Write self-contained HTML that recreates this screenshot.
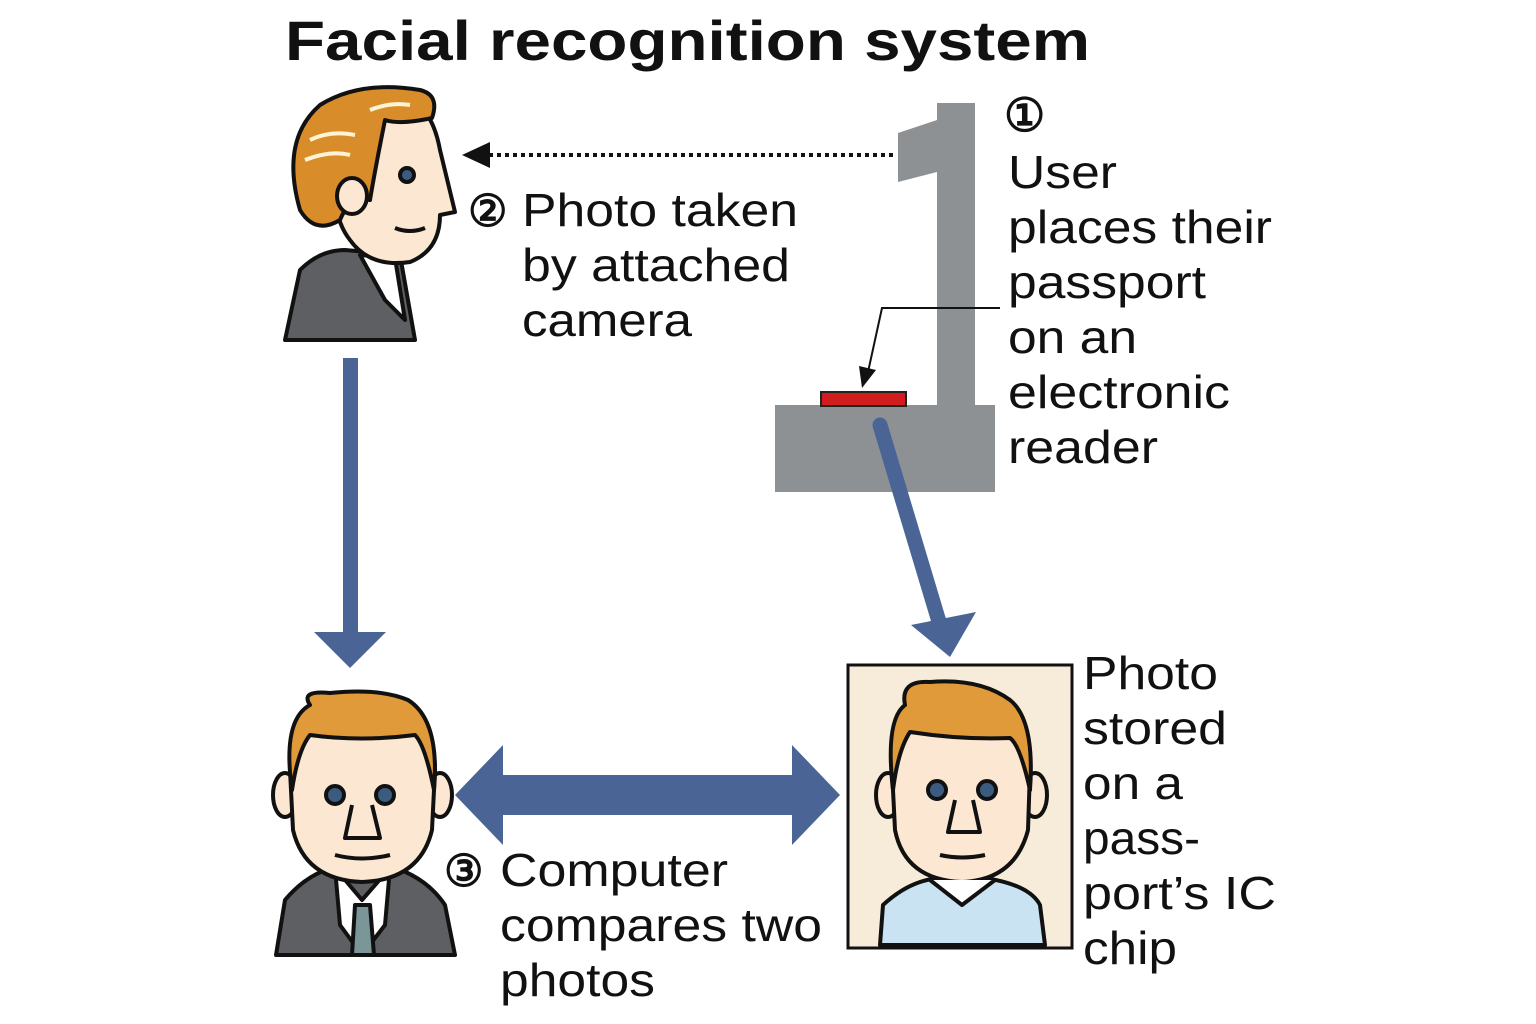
<!DOCTYPE html>
<html><head><meta charset="utf-8"><style>
html,body{margin:0;padding:0;background:#fff}
svg{display:block}
text{font-family:"Liberation Sans",Arial,sans-serif;fill:#111}
</style></head><body>
<svg width="1536" height="1024" viewBox="0 0 1536 1024">
<rect width="1536" height="1024" fill="#fff"/>
<text x="285" y="60" font-size="56" font-weight="bold" textLength="805" lengthAdjust="spacingAndGlyphs">Facial recognition system</text>

<!-- reader -->
<rect x="937" y="103" width="38" height="305" fill="#8d9194"/>
<polygon points="898,133 937,120 937,172 898,182" fill="#8d9194"/>
<rect x="775" y="405" width="220" height="87" fill="#8d9194"/>
<rect x="821" y="392" width="85" height="14" fill="#d21d1d" stroke="#222" stroke-width="2"/>
<!-- dotted arrow -->
<line x1="893" y1="155" x2="488" y2="155" stroke="#111" stroke-width="4" stroke-dasharray="4,4"/>
<polygon points="462,155 490,142 490,168" fill="#111"/>
<!-- leader -->
<polyline points="1000,308 882,308 868,372" fill="none" stroke="#111" stroke-width="2"/>
<polygon points="862,388 859,366 876,370" fill="#111"/>

<!-- blue arrows -->
<g fill="#4a6495" stroke="none">
<rect x="343" y="358" width="15" height="280"/>
<polygon points="314,632 386,632 350,668"/>
<line x1="880" y1="425" x2="940" y2="625" stroke="#4a6495" stroke-width="15" stroke-linecap="round"/>
<polygon points="911,625 976,612 950,657"/>
<rect x="495" y="775" width="305" height="40"/>
<polygon points="455,795 503,745 503,845"/>
<polygon points="840,795 792,745 792,845"/>
</g>

<!-- profile man -->
<g stroke="#111" stroke-width="4" stroke-linejoin="round">
<path d="M285,340 L300,270 Q320,250 345,250 L400,255 L415,340 Z" fill="#5e5f63"/>
<path d="M360,255 L395,258 L405,320 L385,300 Z" fill="#fff"/>
<path d="M335,200 Q330,100 390,95 Q430,95 440,150 L455,212 L440,215 Q440,250 410,262 Q370,268 350,240 Q338,225 335,200 Z" fill="#fbe7d2"/>
<path d="M300,210 Q280,140 320,105 Q360,80 420,90 Q440,95 432,118 Q400,125 385,120 Q375,170 370,200 Q350,195 340,220 Q315,235 300,210 Z" fill="#d98d2a"/>
<ellipse cx="352" cy="196" rx="15" ry="18" fill="#fbe7d2"/>
<circle cx="407" cy="175" r="7" fill="#3b5c7e"/>
<path d="M395,228 Q410,234 425,228" fill="none"/>
</g>
<g stroke="#fff3d6" stroke-width="4" fill="none"><path d="M310,140 Q330,130 355,135"/><path d="M305,160 Q330,150 350,155"/><path d="M370,110 Q390,102 410,105"/></g>

<!-- front man -->
<g stroke="#111" stroke-width="4" stroke-linejoin="round">
<path d="M276,955 L285,900 Q310,870 345,865 L385,865 Q425,875 445,905 L455,955 Z" fill="#5e5f63"/>
<path d="M335,868 L362,900 L390,868 L385,925 L362,955 L340,925 Z" fill="#fff"/>
<path d="M355,905 L370,905 L374,955 L352,955 Z" fill="#7a9697"/>
<ellipse cx="285" cy="795" rx="12" ry="22" fill="#fbe7d2"/>
<ellipse cx="440" cy="795" rx="12" ry="22" fill="#fbe7d2"/>
<path d="M290,770 Q290,700 362,700 Q435,700 435,770 L432,830 Q420,880 362,882 Q305,880 293,830 Z" fill="#fbe7d2"/>
<path d="M292,790 Q282,720 310,705 Q300,690 330,693 Q380,688 408,700 Q440,720 434,790 Q425,745 415,735 Q360,742 310,735 Q298,750 292,790 Z" fill="#e09a3a"/>
<circle cx="335" cy="795" r="9" fill="#3b5c7e"/><circle cx="385" cy="795" r="9" fill="#3b5c7e"/>
<path d="M352,805 L345,838 L380,838 L372,805" fill="none"/>
<path d="M335,855 Q362,862 390,855" fill="none"/>
</g>

<!-- photo frame -->
<rect x="848" y="665" width="224" height="283" fill="#f7ecd9" stroke="#111" stroke-width="3"/>
<g stroke="#111" stroke-width="4" stroke-linejoin="round">
<path d="M880,945 L883,905 Q910,880 940,878 L985,878 Q1030,885 1040,905 L1045,945 Z" fill="#c9e3f2"/>
<ellipse cx="888" cy="795" rx="12" ry="22" fill="#fbe7d2"/>
<ellipse cx="1035" cy="795" rx="12" ry="22" fill="#fbe7d2"/>
<path d="M892,770 Q892,695 962,695 Q1030,695 1030,770 L1028,830 Q1015,880 962,882 Q905,880 895,830 Z" fill="#fbe7d2"/>
<path d="M893,790 Q885,720 905,705 Q900,680 930,682 Q980,678 1010,700 Q1035,720 1030,790 Q1020,745 1010,738 Q962,740 910,732 Q898,750 893,790 Z" fill="#e09a3a"/>
<circle cx="937" cy="790" r="9" fill="#3b5c7e"/><circle cx="987" cy="790" r="9" fill="#3b5c7e"/>
<path d="M955,800 L948,832 L980,832 L973,800" fill="none"/>
<path d="M940,855 Q962,860 985,855" fill="none"/>
<path d="M930,880 L962,905 L995,880" fill="#fff"/>
</g>

<g font-size="46" lengthAdjust="spacingAndGlyphs">
<text x="1004" y="131" font-size="46" font-weight="bold">①</text>
<text x="1008" y="188" textLength="109" lengthAdjust="spacingAndGlyphs">User</text>
<text x="1008" y="243" textLength="264" lengthAdjust="spacingAndGlyphs">places their</text>
<text x="1008" y="298" textLength="198" lengthAdjust="spacingAndGlyphs">passport</text>
<text x="1008" y="353" textLength="129" lengthAdjust="spacingAndGlyphs">on an</text>
<text x="1008" y="408" textLength="222" lengthAdjust="spacingAndGlyphs">electronic</text>
<text x="1008" y="463" textLength="150" lengthAdjust="spacingAndGlyphs">reader</text>

<text x="468" y="226" font-size="44" font-weight="bold">②</text>
<text x="522" y="226" textLength="276" lengthAdjust="spacingAndGlyphs">Photo taken</text>
<text x="522" y="281" textLength="268" lengthAdjust="spacingAndGlyphs">by attached</text>
<text x="522" y="336" textLength="170" lengthAdjust="spacingAndGlyphs">camera</text>

<text x="1083" y="689" textLength="135" lengthAdjust="spacingAndGlyphs">Photo</text>
<text x="1083" y="744" textLength="144" lengthAdjust="spacingAndGlyphs">stored</text>
<text x="1083" y="799" textLength="100" lengthAdjust="spacingAndGlyphs">on a</text>
<text x="1083" y="854" textLength="117" lengthAdjust="spacingAndGlyphs">pass-</text>
<text x="1083" y="909" textLength="193" lengthAdjust="spacingAndGlyphs">port’s IC</text>
<text x="1083" y="964" textLength="94" lengthAdjust="spacingAndGlyphs">chip</text>

<text x="444" y="886" font-size="44" font-weight="bold">③</text>
<text x="500" y="886" textLength="228" lengthAdjust="spacingAndGlyphs">Computer</text>
<text x="500" y="941" textLength="322" lengthAdjust="spacingAndGlyphs">compares two</text>
<text x="500" y="996" textLength="155" lengthAdjust="spacingAndGlyphs">photos</text>
</g>
</svg>
</body></html>
